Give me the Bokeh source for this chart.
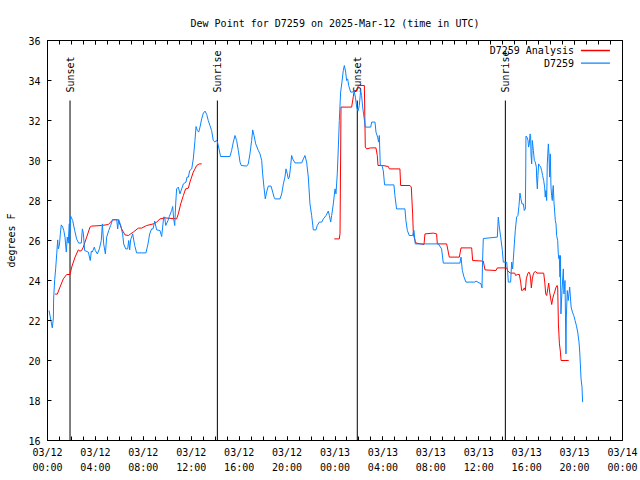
import math
from bokeh.plotting import figure
from bokeh.models import FixedTicker, LinearAxis, Range1d, Label, CustomJSTickFormatter
from bokeh.embed import file_html
from bokeh.resources import INLINE
from bokeh.core.properties import value

FONT = "DejaVu Sans Mono"

title_text = "Dew Point for D7259 on 2025-Mar-12 (time in UTC)"
y_axis_label = "degrees F"

# x in hours since 03/12 00:00 UTC
x_tick_hours = [0, 4, 8, 12, 16, 20, 24, 28, 32, 36, 40, 44, 48]
x_tick_labels = ["03/12\n00:00", "03/12\n04:00", "03/12\n08:00", "03/12\n12:00",
                 "03/12\n16:00", "03/12\n20:00", "03/13\n00:00", "03/13\n04:00",
                 "03/13\n08:00", "03/13\n12:00", "03/13\n16:00", "03/13\n20:00",
                 "03/14\n00:00"]
x_minor_hours = list(range(0, 49))
y_ticks = [16, 18, 20, 22, 24, 26, 28, 30, 32, 34, 36]

sun_hours = [1.88, 14.18, 25.86, 38.22]
sun_names = ["Sunset", "Sunrise", "Sunset", "Sunrise"]

obs_name = "D7259"
obs_hours = [
    0.13, 0.40, 0.49, 0.51, 0.60, 0.68, 0.77, 0.85, 0.90, 0.99, 1.07, 1.15, 1.27, 1.36,
    1.46, 1.57, 1.65, 1.73, 1.82, 1.85, 1.93, 2.10, 2.27, 2.43, 2.60, 2.82, 2.91, 2.99,
    3.10, 3.41, 3.57, 3.66, 3.74, 3.91, 3.99, 4.16, 4.33, 4.49, 4.58, 4.69, 4.83, 4.94,
    5.11, 5.27, 5.44, 5.78, 5.86, 5.94, 6.11, 6.27, 6.36, 6.53, 6.69, 6.78, 6.86, 6.94,
    7.11, 7.28, 7.44, 8.22, 8.39, 8.53, 8.69, 8.81, 8.95, 9.11, 9.39, 9.53, 9.70, 9.78,
    9.87, 10.06, 10.17, 10.36, 10.45, 10.53, 10.62, 10.70, 10.78, 10.92, 11.06, 11.20,
    11.34, 11.56, 11.65, 11.76, 11.87, 12.04, 12.17, 12.31, 12.40, 12.51, 12.62, 12.73,
    12.87, 13.01, 13.15, 13.29, 13.42, 13.56, 13.70, 13.84, 13.98, 14.07, 14.18, 14.26,
    14.45, 15.23, 15.37, 15.51, 15.65, 15.79, 15.93, 16.07, 16.18, 16.63, 16.76, 16.90,
    17.04, 17.13, 17.24, 17.38, 17.60, 17.74, 17.88, 17.96, 18.07, 18.18, 18.29, 18.43,
    18.66, 18.80, 18.91, 18.99, 19.41, 19.55, 19.69, 19.82, 19.91, 20.02, 20.10, 20.19,
    20.30, 20.38, 20.47, 20.66, 21.22, 21.36, 21.49, 21.63, 21.77, 21.91, 22.05, 22.19,
    22.41, 22.52, 22.69, 22.89, 23.03, 23.25, 23.44, 23.53, 23.64, 23.72, 23.86, 24.00,
    24.08, 24.19, 24.28, 24.36, 24.47, 24.58, 24.69, 24.78, 24.89, 24.97, 25.06, 25.14,
    25.31, 25.47, 25.58, 25.70, 25.81, 25.92, 26.03, 26.14, 26.22, 26.31, 26.42, 26.53,
    26.98, 27.06, 27.34, 27.42, 27.56, 27.64, 27.70, 27.78, 27.92, 28.03, 28.14, 28.92,
    29.00, 29.14, 29.84, 29.92, 30.04, 30.20, 30.48, 30.59, 30.70, 32.63, 32.90, 33.04,
    34.43, 34.52, 34.63, 34.77, 34.93, 35.68, 35.77, 36.19, 36.27, 36.32, 36.38, 37.55,
    37.63, 37.72, 37.83, 37.97, 38.05, 38.33, 38.41, 38.47, 38.66, 38.75, 38.83, 38.88,
    38.97, 39.05, 39.16, 39.27, 39.36, 39.44, 39.52, 39.61, 39.72, 39.80, 39.89, 39.92,
    39.94, 40.03, 40.11, 40.16, 40.22, 40.28, 40.33, 40.36, 40.42, 40.47, 40.56, 40.64,
    40.72, 40.81, 40.83, 40.89, 40.94, 41.00, 41.08, 41.17, 41.25, 41.33, 41.42, 41.50,
    41.55, 41.61, 41.67, 41.72, 41.81, 41.86, 41.92, 41.97, 42.03, 42.08, 42.14, 42.19,
    42.22, 42.28, 42.39, 42.45, 42.50, 42.59, 42.64, 42.70, 42.72, 42.78, 42.81, 42.86,
    42.95, 43.06, 43.11, 43.20, 43.28, 43.31, 43.39, 43.47, 43.59, 43.71, 43.82, 43.93,
    44.04, 44.15, 44.26, 44.37, 44.43, 44.48, 44.54, 44.62, 44.67,
]
obs_dewpt = [
    22.5, 21.63, 22.13, 23.08, 24.05, 24.58, 25.33, 26.03, 25.58, 25.75, 26.33, 26.78, 26.67, 26.5,
    26.17, 25.42, 26.17, 25.87, 26.83, 25.83, 27.22, 27.0, 26.5, 26.08, 25.87, 25.87, 26.58, 26.37,
    25.5, 25.42, 25.0, 25.47, 25.42, 25.67, 25.5, 25.33, 25.58, 26.0, 26.83, 25.83, 25.33, 26.17,
    26.5, 26.75, 27.05, 27.05, 26.58, 27.05, 26.75, 26.33, 25.83, 25.58, 25.58, 26.0, 25.53, 26.03,
    26.33, 25.75, 25.38, 25.38, 25.83, 26.33, 26.58, 26.58, 26.97, 26.53, 26.5, 26.2, 27.17, 27.17,
    26.75, 27.0, 27.2, 27.5, 27.7, 27.08, 26.75, 27.83, 28.58, 28.67, 28.33, 28.58,
    28.83, 28.92, 29.17, 29.17, 29.5, 29.58, 30.08, 31.0, 31.7, 31.5, 31.42, 31.67,
    32.08, 32.37, 32.47, 32.3, 32.0, 31.75, 31.5, 31.0, 30.92, 31.0, 30.95, 30.75,
    30.2, 30.2, 30.5, 30.92, 31.25, 31.0, 30.5, 29.92, 29.75, 29.72, 29.83, 30.33,
    31.0, 31.53, 31.25, 30.83, 30.5, 30.33, 30.0, 29.33, 28.67, 28.08, 28.42, 28.72,
    28.72, 28.42, 28.17, 28.08, 28.08, 28.33, 28.83, 29.17, 29.58, 29.33, 29.08, 29.17,
    29.75, 30.25, 30.08, 29.88, 29.88, 30.08, 30.25, 29.92, 29.17, 27.83, 27.25, 26.53,
    26.53, 26.75, 26.92, 26.92, 27.08, 27.25, 27.47, 27.25, 26.92, 27.25, 27.83, 28.58,
    28.33, 29.33, 30.67, 32.0, 33.42, 33.92, 34.5, 34.75, 34.42, 34.0, 34.08, 33.75,
    33.42, 33.42, 33.53, 33.17, 32.67, 32.47, 32.75, 33.5, 33.25, 32.67, 32.17, 31.67,
    31.67, 31.92, 31.92, 31.42, 31.17, 30.92, 31.25, 29.75, 29.75, 29.5, 28.78, 28.78,
    28.25, 27.58, 27.58, 27.0, 26.5, 26.25, 26.25, 26.5, 25.83, 25.83, 25.58, 24.87,
    24.87, 25.17, 24.5, 24.17, 23.92, 23.92, 23.97, 23.83, 23.63, 25.0, 26.1, 26.17,
    27.17, 26.67, 26.17, 25.5, 24.92, 24.92, 24.42, 23.92, 23.92, 24.92, 24.58, 25.0,
    25.83, 26.5, 27.17, 27.25, 27.75, 28.37, 28.08, 27.83, 27.83, 27.5, 27.58, 29.33,
    31.22, 31.17, 31.0, 30.67, 30.83, 31.33, 31.25, 30.33, 29.83, 31.0, 30.5, 30.0,
    29.92, 29.67, 29.17, 28.58, 29.25, 29.83, 29.75, 29.67, 29.5, 29.25, 29.0, 28.67,
    28.17, 28.5, 28.0, 29.83, 30.83, 30.33, 29.17, 30.33, 28.67, 28.25, 28.0, 28.58,
    28.75, 27.92, 27.0, 26.83, 26.25, 26.0, 25.33, 25.08, 25.25, 24.17, 25.25, 22.33,
    23.5, 24.58, 23.33, 24.0, 20.33, 22.17, 23.5, 23.0, 23.67, 22.67, 22.42, 22.25,
    22.0, 21.75, 21.42, 20.92, 20.42, 19.83, 19.08, 18.67, 17.92,
]

ana_name = "D7259 Analysis"
nan = float("nan")
ana_hours = [
    0.63, 0.82, 1.04, 1.32, 1.60, 1.88, 2.02, 2.30, 2.57, 2.71, 2.85, 2.99, 3.27, 3.55,
    3.69, 4.52, 5.08, 5.27, 5.44, 5.91, 6.19, 6.47, 6.75, 6.94, 7.16, 7.58, 7.86, 8.28,
    8.83, 9.11, 9.39, 9.81, 10.78, 10.92, 11.12, 11.34, 11.53, 11.76, 11.89, 12.03, 12.17,
    12.31, 12.45, 12.67, 12.87, nan,
    23.94, 24.36, 24.42, 24.50, 25.39, 25.53, 25.61, 25.81, 25.95, 26.45, 26.53, 26.64,
    26.98, 27.42, 27.53, 27.59, 27.98, 28.45, 28.54, 29.42, 29.48, 30.26, 30.37, 30.48,
    30.54, 30.68, 30.76, 31.43, 31.51, 32.21, 32.48, 32.54, 33.32, 33.46, 33.54, 34.38,
    34.52, 35.41, 35.49, 36.38, 36.52, 37.44, 37.55, 38.33, 38.41, 38.52, 38.66, 39.00,
    39.08, 39.22, 39.39, 39.50, 39.58, 39.72, 39.80, 39.89, 39.97, 40.08, 40.19, 40.28,
    40.33, 40.39, 40.47, 40.56, 40.64, 40.75, 40.86, 41.42, 41.51, 41.59, 41.67, 41.76,
    41.84, 41.92, 42.01, 42.09, 42.17, 42.26, 42.34, 42.43, 42.54, 42.59, 42.65, 42.73,
    42.82, 42.87, 43.51,
]
ana_dewpt = [
    23.32, 23.32, 23.67, 24.08, 24.3, 24.3, 24.67, 25.17, 25.53, 25.47, 25.5, 25.67, 26.17, 26.67,
    26.72, 26.75, 26.8, 26.92, 27.03, 27.03, 26.58, 26.28, 26.25, 26.33, 26.42, 26.62, 26.62, 26.75,
    26.83, 26.92, 27.08, 27.13, 27.08, 27.33, 27.83, 28.25, 28.58, 28.62, 28.92, 29.17, 29.42,
    29.58, 29.75, 29.83, 29.83, nan,
    26.08, 26.08, 26.37, 32.67, 32.67, 33.2, 33.5, 33.5, 33.75, 33.75, 30.67, 30.58,
    30.63, 30.63, 30.25, 29.75, 29.75, 29.7, 29.58, 29.58, 28.75, 28.75, 28.67, 27.33,
    26.33, 26.0, 25.87, 25.8, 26.33, 26.37, 26.33, 25.83, 25.83, 25.42, 25.17, 25.17,
    25.63, 25.63, 25.0, 24.97, 24.53, 24.5, 24.63, 24.63, 24.5, 24.42, 24.37, 24.37,
    24.25, 24.3, 24.3, 23.92, 23.5, 23.53, 23.63, 23.5, 24.08, 24.33, 24.42, 24.3,
    24.08, 23.63, 24.08, 24.33, 24.42, 24.45, 24.37, 24.37, 23.92, 23.33, 23.25, 23.58,
    23.87, 23.42, 23.08, 22.8, 23.08, 23.3, 23.42, 23.63, 23.75, 23.63, 21.83, 20.87,
    20.42, 20.0, 20.0,
]

RED = "#ff0000"
BLUE = "#0a84ff"

p = figure(frame_width=575, frame_height=400, output_backend="svg", toolbar_location=None,
           x_range=Range1d(0, 48), y_range=Range1d(16, 36),
           min_border_left=47, min_border_right=18, min_border_top=40, min_border_bottom=40,
           title=title_text)
p.background_fill_color = "white"
p.border_fill_color = "white"
p.outline_line_color = "black"
p.xgrid.visible = False
p.ygrid.visible = False

p.title.align = "center"
p.title.text_font = FONT
p.title.text_font_size = "10px"
p.title.text_font_style = "normal"
p.title.text_color = "black"
p.title.standoff = 23

x_overrides = {h: lab for h, lab in zip(x_tick_hours, x_tick_labels)}

def style_x(ax, labels=True):
    ax.ticker = FixedTicker(ticks=x_tick_hours, minor_ticks=x_minor_hours)
    ax.major_tick_in = 4
    ax.major_tick_out = 0
    ax.minor_tick_in = 4
    ax.minor_tick_out = 0
    ax.axis_line_color = "black"
    ax.major_tick_line_color = "black"
    ax.minor_tick_line_color = "black"
    ax.major_label_text_font = FONT
    ax.major_label_text_font_size = "10px"
    ax.major_label_text_color = "black"
    if labels:
        ax.major_label_overrides = x_overrides
        ax.major_label_text_line_height = 1.4
        ax.major_label_standoff = 6
    else:
        ax.formatter = CustomJSTickFormatter(code="return ''")
        ax.major_label_standoff = 0

def style_y(ax, labels=True):
    ax.ticker = FixedTicker(ticks=y_ticks)
    ax.major_tick_in = 4
    ax.major_tick_out = 0
    ax.minor_tick_line_color = None
    ax.axis_line_color = "black"
    ax.major_tick_line_color = "black"
    ax.major_label_text_font = FONT
    ax.major_label_text_font_size = "10px"
    ax.major_label_text_color = "black"
    if labels:
        ax.major_label_standoff = 7
        ax.axis_label = y_axis_label
        ax.axis_label_text_font = FONT
        ax.axis_label_text_font_size = "10px"
        ax.axis_label_text_font_style = "normal"
        ax.axis_label_text_color = "black"
        ax.axis_label_standoff = 8
    else:
        ax.formatter = CustomJSTickFormatter(code="return ''")
        ax.major_label_standoff = 0

style_x(p.xaxis[0])
style_y(p.yaxis[0])
top_ax = LinearAxis()
style_x(top_ax, labels=False)
p.add_layout(top_ax, "above")
right_ax = LinearAxis()
style_y(right_ax, labels=False)
p.add_layout(right_ax, "right")

# sunrise / sunset markers
p.segment(x0=sun_hours, y0=[16] * 4, x1=sun_hours, y1=[33] * 4, line_color="black", line_width=1)
p.text(x=sun_hours, y=[33.4] * 4, text=sun_names, angle=math.pi / 2,
       text_align="left", text_baseline="middle", text_font=value(FONT),
       text_font_size="10px", text_color="black")

# data series
p.line(ana_hours, ana_dewpt, line_color=RED, line_width=1)
p.line(obs_hours, obs_dewpt, line_color=BLUE, line_width=1)

# legend (key on the right of the labels, as in the original)
for lab, col, yy in [(ana_name, RED, 35.5), (obs_name, BLUE, 34.87)]:
    p.add_layout(Label(x=43.95, y=yy, text=lab, text_align="right", text_baseline="middle",
                       text_font=FONT, text_font_size="10px", text_color="black"))
    p.line([44.53, 46.95], [yy, yy], line_color=col, line_width=1.3)

open("out.html", "w").write(file_html(p, INLINE))
